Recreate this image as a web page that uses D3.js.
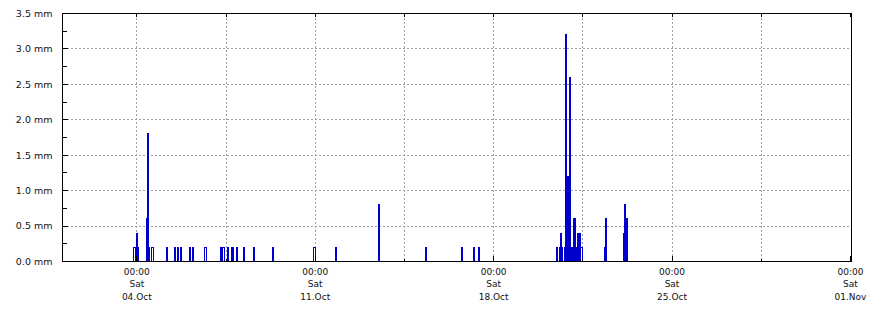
<!DOCTYPE html>
<html>
<head>
<meta charset="utf-8">
<script src="https://cdn.jsdelivr.net/npm/d3@7"></script>
<style>
  body { margin: 0; background: #fff; }
  svg { display: block; }
  text { font-family: "DejaVu Sans", sans-serif; fill: #111; }
</style>
</head>
<body>
<script>
// rain per record: start time (UTC), length in hours, amount in mm
var rainStart = [
  "2014-10-03 21:00", "2014-10-04 00:00", "2014-10-04 01:00", "2014-10-04 09:00",
  "2014-10-04 10:00", "2014-10-04 11:00", "2014-10-04 14:00", "2014-10-05 04:00",
  "2014-10-05 11:00", "2014-10-05 14:00", "2014-10-05 17:00", "2014-10-06 02:00",
  "2014-10-06 04:00", "2014-10-06 16:00", "2014-10-07 07:00", "2014-10-07 09:00",
  "2014-10-07 13:00", "2014-10-07 17:00", "2014-10-07 18:00", "2014-10-07 22:00",
  "2014-10-08 04:00", "2014-10-08 14:00", "2014-10-09 08:00", "2014-10-10 22:00",
  "2014-10-11 19:00", "2014-10-13 12:00", "2014-10-15 08:00", "2014-10-16 18:00",
  "2014-10-17 05:00", "2014-10-17 10:00", "2014-10-20 11:00", "2014-10-20 14:00",
  "2014-10-20 15:00", "2014-10-20 16:00", "2014-10-20 19:00", "2014-10-20 20:00",
  "2014-10-20 21:00", "2014-10-20 22:00", "2014-10-20 23:00", "2014-10-21 00:00",
  "2014-10-21 01:00", "2014-10-21 02:00", "2014-10-21 03:00", "2014-10-21 04:00",
  "2014-10-21 05:00", "2014-10-21 07:00", "2014-10-21 08:00", "2014-10-21 09:00",
  "2014-10-21 10:00", "2014-10-22 08:00", "2014-10-22 09:00", "2014-10-23 02:00",
  "2014-10-23 03:00", "2014-10-23 04:00", "2014-10-23 05:00"
];
var rainHours = [
  2, 1, 1, 1,  1, 1, 2, 1,  1, 1, 1, 1,  1, 2, 1, 2,
  1, 1, 1, 1,  1, 1, 1, 2,  1, 1, 1, 1,  1, 1, 1, 1,
  1, 1, 1, 1,  1, 1, 1, 1,  1, 1, 1, 1,  1, 1, 1, 1,
  2, 1, 1, 1,  1, 1, 1
];
var rainMm = [
  0.2, 0.4, 0.2, 0.6,  1.8, 0.2, 0.2, 0.2,  0.2, 0.2, 0.2, 0.2,  0.2, 0.2, 0.2, 0.2,
  0.2, 0.2, 0.2, 0.2,  0.2, 0.2, 0.2, 0.2,  0.2, 0.8, 0.2, 0.2,  0.2, 0.2, 0.2, 0.2,
  0.4, 0.2, 0.2, 3.2,  1.2, 1.2, 2.6, 0.2,  0.2, 0.2, 0.6, 0.6,  0.2, 0.4, 0.4, 0.4,
  0.2, 0.2, 0.6, 0.4,  0.8, 0.6, 0.6
];

// axis range and ticks
var timeStart = "2014-10-01 02:00";
var timeEnd = "2014-11-01 01:00";
var firstTick = "2014-10-04 00:00";
var tickStepHours = 84;          // a tick every 3.5 days, labelled every 7
var yMax = 3.5;
var yMajor = [0, 0.5, 1.0, 1.5, 2.0, 2.5, 3.0, 3.5];
var yMinor = [0.25, 0.75, 1.25, 1.75, 2.25, 2.75, 3.25];

var parseTime = d3.utcParse("%Y-%m-%d %H:%M");

// set the dimensions and margins of the graph
var margin = {top: 13, right: 19, bottom: 49, left: 62},
    width = 870 - margin.left - margin.right,
    height = 310 - margin.top - margin.bottom;

var x = d3.scaleUtc()
    .domain([parseTime(timeStart), parseTime(timeEnd)])
    .range([0, width]);
var y = d3.scaleLinear().domain([0, yMax]).range([height, 0]);

var svg = d3.select("body").append("svg")
    .attr("width", width + margin.left + margin.right)
    .attr("height", height + margin.top + margin.bottom)
  .append("g")
    .attr("transform", "translate(" + (margin.left + 0.5) + "," + (margin.top + 0.5) + ")");

// x ticks every 3.5 days
var xTicks = [];
for (var t = parseTime(firstTick); t <= x.domain()[1]; t = d3.utcHour.offset(t, tickStepHours)) {
  xTicks.push(t);
}
function isWeek(d) { return d.getUTCHours() === 0; }
function px(d) { return Math.round(x(d)); }
function py(v) { return Math.round(y(v)); }

// grid
var grid = svg.append("g")
    .attr("stroke", "#a0a0a0")
    .attr("stroke-dasharray", "2,2")
    .attr("shape-rendering", "crispEdges");
grid.selectAll(".hg")
    .data(yMajor.filter(function(d) { return d > 0 && d < yMax; }))
  .enter().append("line")
    .attr("x1", 0).attr("x2", width)
    .attr("y1", py).attr("y2", py);
grid.selectAll(".vg")
    .data(xTicks.filter(function(d) { return px(d) < width - 1; }))
  .enter().append("line")
    .attr("y1", 0).attr("y2", height)
    .attr("x1", px).attr("x2", px);

// rain bars, outlined on whole pixels
var bars = rainStart.map(function(s, i) {
  var t0 = parseTime(s);
  return {t0: t0, t1: d3.utcHour.offset(t0, rainHours[i]), v: rainMm[i]};
});
svg.append("g").selectAll("rect")
    .data(bars)
  .enter().append("rect")
    .attr("x", function(d) { return px(d.t0); })
    .attr("width", function(d) { return Math.max(1, Math.round(x(d.t1) - x(d.t0))); })
    .attr("y", function(d) { return py(d.v); })
    .attr("height", function(d) { return py(0) - py(d.v); })
    .attr("fill", "none")
    .attr("stroke", "#0000cc")
    .attr("shape-rendering", "crispEdges");

// frame
svg.append("rect")
    .attr("width", width).attr("height", height)
    .attr("fill", "none").attr("stroke", "#000")
    .attr("shape-rendering", "crispEdges");

var ticks = svg.append("g").attr("stroke", "#000").attr("shape-rendering", "crispEdges");
// y ticks, inside the frame
ticks.selectAll(".ym").data(yMajor).enter().append("line")
    .attr("x1", 0).attr("x2", 5)
    .attr("y1", py).attr("y2", py);
ticks.selectAll(".yn").data(yMinor).enter().append("line")
    .attr("x1", 0).attr("x2", 4)
    .attr("y1", py).attr("y2", py);
// x ticks on bottom and top
ticks.selectAll(".xb").data(xTicks).enter().append("line")
    .attr("x1", px).attr("x2", px)
    .attr("y1", height)
    .attr("y2", function(d) { return height - (isWeek(d) ? 6 : 3); });
ticks.selectAll(".xt").data(xTicks).enter().append("line")
    .attr("x1", px).attr("x2", px)
    .attr("y1", 0).attr("y2", 3);

// y labels
svg.append("g").selectAll("text")
    .data(yMajor)
  .enter().append("text")
    .attr("x", -10)
    .attr("y", function(d) { return y(d); })
    .attr("dy", "0.35em")
    .attr("text-anchor", "end")
    .style("font-size", "9.5px")
    .text(function(d) { return d3.format(".1f")(d) + " mm"; });

// x labels, three lines per week tick
var fmts = [d3.utcFormat("%H:%M"), d3.utcFormat("%a"), d3.utcFormat("%d.%b")];
var xl = svg.append("g").selectAll("text")
    .data(xTicks.filter(isWeek))
  .enter().append("text")
    .attr("text-anchor", "middle")
    .style("font-size", "9px");
fmts.forEach(function(f, i) {
  xl.append("tspan")
      .attr("x", function(d) { return x(d); })
      .attr("y", height + 13 + i * 12.5)
      .text(function(d) { return f(d); });
});
</script>
</body>
</html>
